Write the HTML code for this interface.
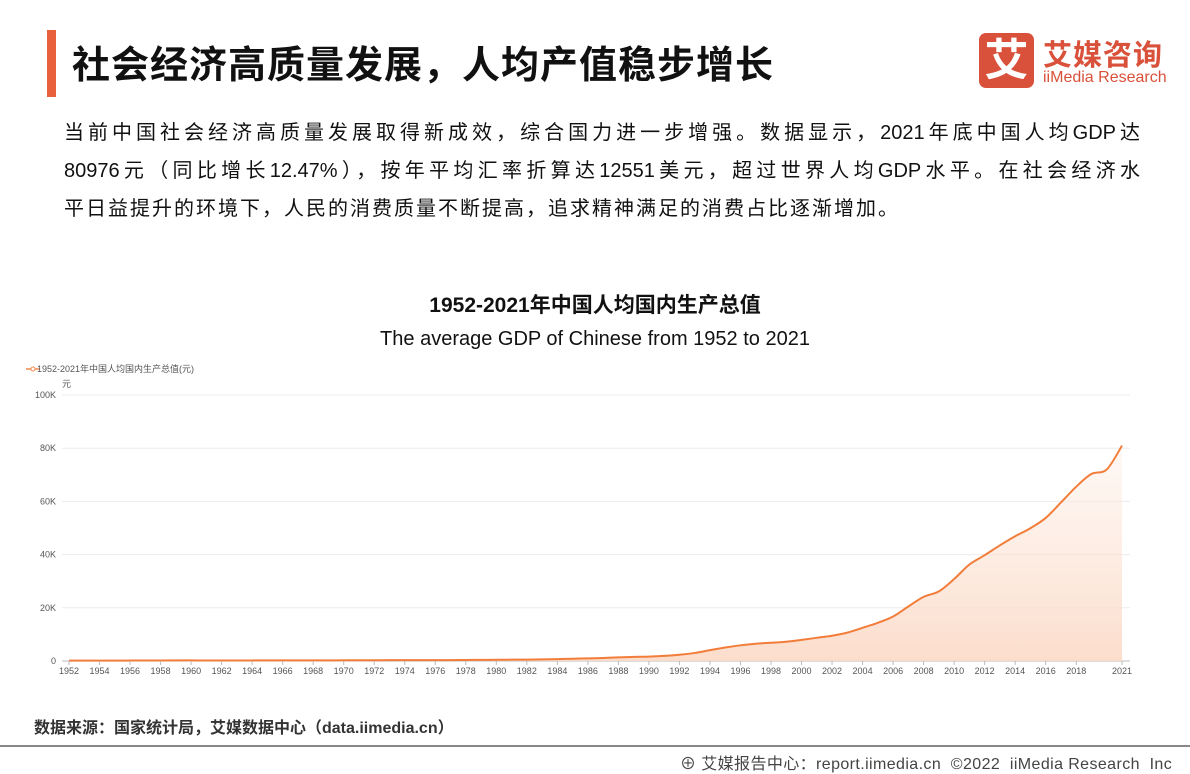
<!DOCTYPE html>
<html><head><meta charset="utf-8"><style>
body{margin:0;width:1190px;height:774px;background:#fff;font-family:"Liberation Sans","Noto Sans CJK SC",sans-serif;position:relative;overflow:hidden}
.a{position:absolute}
.pl{display:block;white-space:nowrap;text-align:justify;text-align-last:justify;width:1076px;height:38px}
</style></head><body>
<div class="a" style="left:47px;top:30px;width:9px;height:67px;background:#e8603c"></div>
<div class="a" style="left:72px;top:34px;font-size:38px;font-weight:bold;color:#111;letter-spacing:1px">社会经济高质量发展，人均产值稳步增长</div>
<div class="a" style="left:979px;top:33px;width:55px;height:55px;background:#d9513a;border-radius:7px;color:#fff;font-size:44px;font-weight:bold;text-align:center;line-height:55px">艾</div>
<div class="a" style="left:1043px;top:32px;font-size:29px;font-weight:bold;color:#d9513a;letter-spacing:1px">艾媒咨询</div>
<div class="a" style="left:1043px;top:69px;font-size:16px;color:#d9513a">iiMedia Research</div>
<div class="a" style="left:64px;top:114px;font-size:20px;line-height:38px;color:#111">
<span class="pl">当前中国社会经济高质量发展取得新成效，综合国力进一步增强。数据显示，2021年底中国人均GDP达</span>
<span class="pl">80976元（同比增长12.47%），按年平均汇率折算达12551美元，超过世界人均GDP水平。在社会经济水</span>
<span class="pl" style="text-align-last:left;letter-spacing:2px">平日益提升的环境下，人民的消费质量不断提高，追求精神满足的消费占比逐渐增加。</span>
</div>
<div class="a" style="left:0;width:1190px;top:289px;text-align:center;font-size:21px;font-weight:bold;color:#111">1952-2021年中国人均国内生产总值</div>
<div class="a" style="left:0;width:1190px;top:328px;text-align:center;font-size:20px;color:#111">The average GDP of Chinese from 1952 to 2021</div>
<svg class="a" style="left:0;top:0" width="1190" height="774">
<defs><linearGradient id="g" x1="0" y1="0" x2="0" y2="1"><stop offset="0" stop-color="#fde8dc" stop-opacity="0.3"/><stop offset="1" stop-color="#fbd9c6" stop-opacity="0.9"/></linearGradient></defs>
<g id="grid"></g><g id="area"></g><g id="axes"></g>
<line x1="26" y1="369" x2="40" y2="369" stroke="#f28a4a" stroke-width="1.5"/>
<circle cx="33" cy="369" r="2" fill="#fff" stroke="#f28a4a"/>
<text x="37" y="372" font-size="9" fill="#555">1952-2021年中国人均国内生产总值(元)</text>
<text x="62" y="387" font-size="9" fill="#555">元</text>
</svg>
<div class="a" style="left:34px;top:714px;font-size:16px;font-weight:bold;color:#333">数据来源：国家统计局，艾媒数据中心（data.iimedia.cn）</div>
<div class="a" style="left:0;top:745px;width:1190px;height:2px;background:#888"></div>
<div class="a" style="left:680px;top:750px;font-size:16px;color:#444;letter-spacing:0.4px;white-space:nowrap">⊕ 艾媒报告中心：report.iimedia.cn &nbsp;©2022 &nbsp;iiMedia Research &nbsp;Inc</div>
<script>
const years=[];for(let y=1952;y<=2021;y++)years.push(y);
const gdp=[119,142,144,150,166,168,200,216,218,185,173,181,208,240,254,235,222,243,275,288,292,309,310,327,316,339,385,423,468,497,533,588,702,866,973,1123,1378,1536,1663,1912,2334,3027,4081,5091,5898,6481,6860,7229,7942,8717,9506,10666,12487,14368,16738,20494,24100,26180,30808,36277,39771,43497,46912,49922,53783,59592,65534,70328,72000,80976];
const yTicks=[0,20000,40000,60000,80000,100000];
const yTickLabels=["0","20K","40K","60K","80K","100K"];
const NS="http://www.w3.org/2000/svg";
const X=y=>69+(y-1952)*(1122-69)/69, Y=v=>661-v*(661-395)/100000;
function mk(t,a,p){const e=document.createElementNS(NS,t);for(const k in a)e.setAttribute(k,a[k]);p.appendChild(e);return e;}
const grid=document.getElementById('grid'),axes=document.getElementById('axes'),area=document.getElementById('area');
yTicks.forEach((v,i)=>{
 const l=mk('line',{x1:62,x2:1130,y1:Y(v),y2:Y(v),stroke:i?'#ececec':'#bbb'},grid);
 
 
 const t=mk('text',{x:56,y:Y(v)+3,'font-size':9,fill:'#555','text-anchor':'end'},axes);t.textContent=yTickLabels[i];
 
 
});
years.forEach(y=>{
 if((y%2===0&&y!==2020)||y===2021){
  mk('line',{x1:X(y),x2:X(y),y1:661,y2:665,stroke:'#bbb'},axes);
  const t=mk('text',{x:X(y),y:674,'font-size':9,fill:'#555','text-anchor':'middle'},axes);t.textContent=y;
  
  
 }
});
const pts=years.map((y,i)=>[X(y),Y(gdp[i])]);
let d='M'+pts[0][0]+','+pts[0][1];
for(let i=0;i<pts.length-1;i++){const p0=pts[i-1]||pts[i],p1=pts[i],p2=pts[i+1],p3=pts[i+2]||p2;
 d+=` C${p1[0]+(p2[0]-p0[0])/6},${p1[1]+(p2[1]-p0[1])/6} ${p2[0]-(p3[0]-p1[0])/6},${p2[1]-(p3[1]-p1[1])/6} ${p2[0]},${p2[1]}`;}
const ar=mk('path',{d:d+` L${X(2021)},661 L${X(1952)},661 Z`,fill:'url(#g)'},area);


const ln=mk('path',{d:d,fill:'none',stroke:'#f27d3a','stroke-width':2},area);


</script>
</body></html>
